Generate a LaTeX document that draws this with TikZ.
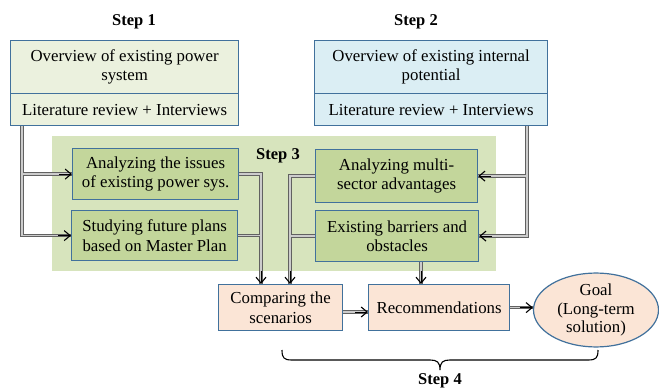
\documentclass[tikz,border=0pt]{standalone}
\usepackage{fontspec}
\setmainfont{Liberation Serif}
\usetikzlibrary{arrows.meta,calc,shapes.geometric}

\definecolor{edgeblue}{HTML}{41719C}
\definecolor{stepone}{HTML}{EBF1DE}
\definecolor{steptwo}{HTML}{DBEEF4}
\definecolor{bandgreen}{HTML}{D7E4BD}
\definecolor{taskgreen}{HTML}{C3D69B}
\definecolor{peach}{HTML}{FBE5D6}

\tikzset{
  txt/.style={font=\fontsize{16.8}{19.5}\selectfont},
  box/.style={txt, draw=edgeblue, line width=1.2pt, align=center, inner sep=0pt, anchor=north west},
  steplabel/.style={font=\fontsize{16.5}{19}\selectfont\bfseries, inner sep=0pt},
  tip/.style={-{Straight Barb[length=6pt,width=10pt,line width=1.1pt]}, black, line width=0.9pt},
}

% connector network, drawn twice: grey casing, then light core
\newcommand\pipenet{%
  \draw[pipe] (L) -- (L |- B.west) -- (B.west);
  \draw[pipe] (L |- A.west) -- (A.west);
  \draw[pipe] (R) -- (R |- D.east) -- (D.east);
  \draw[pipe] (R |- C.east) -- (C.east);
  \draw[pipe] (A.east) -- (M1 |- A.east) -- (M1);
  \draw[pipe] (B.east) -- (M1 |- B.east);
  \draw[pipe] (C.west) -- (M2 |- C.west) -- (M2);
  \draw[pipe] (D.west) -- (M2 |- D.west);
  \draw[pipe] (M3) -- (M3 |- rec.north);
  \draw[pipe] (M4) -- (M4 -| rec.west);
  \draw[pipe] (rec.east) -- (goal.west |- rec.east);
}

\begin{document}
\begin{tikzpicture}[x=1pt,y=-1pt]
\useasboundingbox (0,0) rectangle (659,390);

% step 3 band
\fill[bandgreen] (52,136) rectangle (496,271);

% step 1 and step 2
\node[steplabel] (st1) at (134,22) {Step 1};
\node[steplabel] (st2) at (416,22) {Step 2};
\node[box, fill=stepone, minimum width=228pt, minimum height=53pt] (s1top) at (10,40) {Overview of existing power\\system};
\node[box, fill=stepone, minimum width=228pt, minimum height=32pt] (s1bot) at (10,93) {Literature review + Interviews};
\node[box, fill=steptwo, minimum width=233pt, minimum height=53pt] (s2top) at (314,40) {Overview of existing internal\\potential};
\node[box, fill=steptwo, minimum width=233pt, minimum height=32pt] (s2bot) at (314,93) {Literature review + Interviews};

% step 3
\node[steplabel] (st3) at (278,156) {Step 3};
\node[box, fill=taskgreen, minimum width=166pt, minimum height=51pt] (A) at (72,148) {Analyzing the issues\\of existing power sys.};
\node[box, fill=taskgreen, minimum width=166pt, minimum height=50pt] (B) at (71,210) {Studying future plans\\based on Master Plan};
\node[box, fill=taskgreen, minimum width=162pt, minimum height=53pt] (C) at (315,149) {Analyzing multi-\\sector advantages};
\node[box, fill=taskgreen, minimum width=163pt, minimum height=51pt] (D) at (315,210) {Existing barriers and\\obstacles};

% step 4
\node[box, fill=peach, minimum width=124pt, minimum height=46pt] (cmp) at (218,284) {Comparing the\\scenarios};
\node[box, fill=peach, minimum width=141pt, minimum height=46pt] (rec) at (368,284) {Recommendations};
\node[txt, ellipse, draw=edgeblue, line width=1.2pt, fill=peach, align=center, inner sep=0pt,
      minimum width=125pt, minimum height=69pt, font=\fontsize{16.8}{18.5}\selectfont] (goal) at (596,310) {Goal\\(Long-term\\solution)};

% junction points of the connectors
\coordinate (L) at (s1bot.south -| 22,0);
\coordinate (R) at (s2bot.south -| 527,0);
\coordinate (M1) at (cmp.north -| 261,0);
\coordinate (M2) at (cmp.north -| 290,0);
\coordinate (M3) at (D.south -| 421,0);
\coordinate (M4) at (cmp.east |- 0,312);

\tikzset{pipe/.style={draw=black!62, line width=3.6pt}}
\pipenet
\tikzset{pipe/.style={draw=white!80!black, line width=1.3pt}}
\pipenet

% arrow heads
\draw[tip] ($(A.west)+(-13,0)$) -- (A.west);
\draw[tip] ($(B.west)+(-13,0)$) -- (B.west);
\draw[tip] ($(C.east)+(13,0)$) -- (C.east);
\draw[tip] ($(D.east)+(13,0)$) -- (D.east);
\draw[tip] ($(M1)+(0,-13)$) -- (M1);
\draw[tip] ($(M2)+(0,-13)$) -- (M2);
\draw[tip] ($(M3 |- rec.north)+(0,-13)$) -- (M3 |- rec.north);
\draw[tip] ($(M4 -| rec.west)+(-13,0)$) -- (M4 -| rec.west);
\draw[tip] ($(goal.west |- rec.east)+(-13,0)$) -- (goal.west |- rec.east);

% brace under step 4
\draw[line width=1.1pt, black]
  (282,350) .. controls (282,358) and (284,360) .. (292,360) -- (430,360)
  .. controls (437,360) and (440,362) .. (440,370)
  .. controls (440,362) and (443,360) .. (450,360) -- (588,360)
  .. controls (596,360) and (598,358) .. (598,350);
\node[steplabel] (st4) at (440,381) {Step 4};
\end{tikzpicture}
\end{document}
